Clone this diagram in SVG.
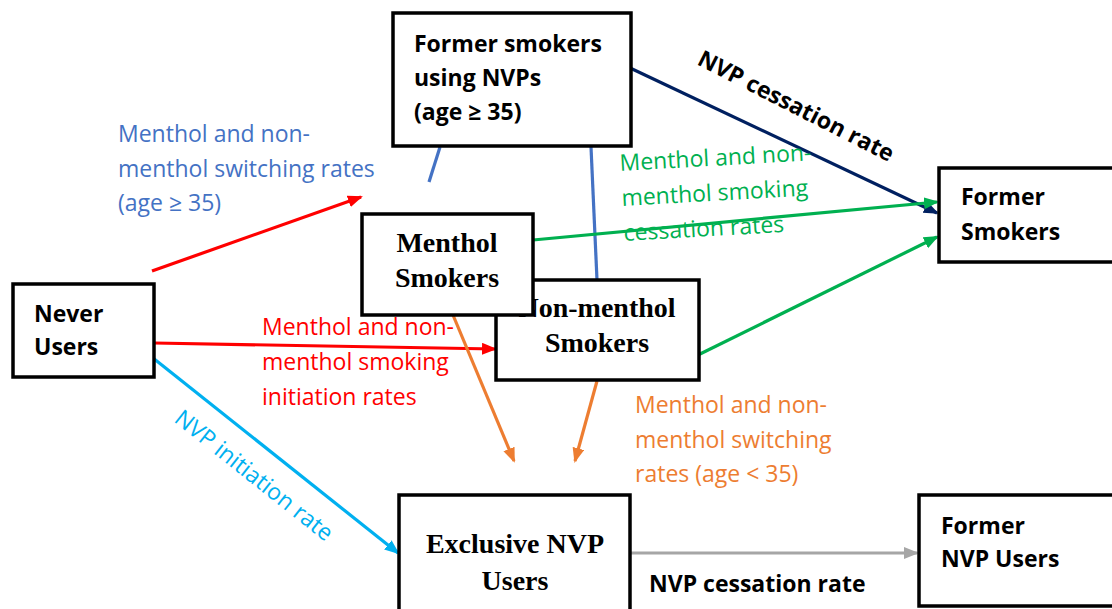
<svg xmlns="http://www.w3.org/2000/svg" width="1112" height="609" viewBox="0 0 1112 609">
<style>
.box{fill:#fff;stroke:#000;stroke-width:3.5}
.sans{font-family:"Open Sans","Liberation Sans",sans-serif;font-size:23px}
.b{font-weight:bold;fill:#000}
.serif{font-family:"Liberation Serif","Times New Roman",serif;font-size:28px;font-weight:bold;fill:#000}
.ln{fill:none;stroke-width:3.2}
</style>
<defs>
<marker id="aRed" markerUnits="userSpaceOnUse" markerWidth="16" markerHeight="14" refX="13" refY="6" orient="auto"><path d="M0,0 L15,6 L0,12 z" fill="#FF0000"/></marker>
<marker id="aNavy" markerUnits="userSpaceOnUse" markerWidth="16" markerHeight="14" refX="13" refY="6" orient="auto"><path d="M0,0 L15,6 L0,12 z" fill="#002060"/></marker>
<marker id="aGreen" markerUnits="userSpaceOnUse" markerWidth="16" markerHeight="14" refX="13" refY="6" orient="auto"><path d="M0,0 L15,6 L0,12 z" fill="#00B050"/></marker>
<marker id="aCyan" markerUnits="userSpaceOnUse" markerWidth="16" markerHeight="14" refX="13" refY="6" orient="auto"><path d="M0,0 L15,6 L0,12 z" fill="#00B0F0"/></marker>
<marker id="aOrange" markerUnits="userSpaceOnUse" markerWidth="16" markerHeight="14" refX="13" refY="6" orient="auto"><path d="M0,0 L15,6 L0,12 z" fill="#ED7D31"/></marker>
<marker id="aGray" markerUnits="userSpaceOnUse" markerWidth="16" markerHeight="14" refX="13" refY="6" orient="auto"><path d="M0,0 L15,6 L0,12 z" fill="#A6A6A6"/></marker>
</defs>

<g id="connectors">
  <line class="ln" x1="440" y1="147" x2="429" y2="182" stroke="#4472C4"/>
  <line class="ln" x1="591" y1="147" x2="597" y2="280" stroke="#4472C4"/>
  <line class="ln" x1="628" y1="67" x2="937" y2="213" stroke="#002060" marker-end="url(#aNavy)"/>
  <line class="ln" x1="533" y1="240" x2="937" y2="202" stroke="#00B050" marker-end="url(#aGreen)"/>
  <line class="ln" x1="698" y1="355" x2="937" y2="237" stroke="#00B050" marker-end="url(#aGreen)"/>
  <line class="ln" x1="152" y1="271" x2="361" y2="197" stroke="#FF0000" marker-end="url(#aRed)"/>
  <line class="ln" x1="154" y1="343" x2="495" y2="349" stroke="#FF0000" marker-end="url(#aRed)"/>
  <line class="ln" x1="153" y1="358" x2="398" y2="553" stroke="#00B0F0" marker-end="url(#aCyan)"/>
  <line class="ln" x1="453" y1="315" x2="514" y2="461" stroke="#ED7D31" marker-end="url(#aOrange)"/>
  <line class="ln" x1="597" y1="381" x2="575" y2="461" stroke="#ED7D31" marker-end="url(#aOrange)"/>
  <line class="ln" x1="631" y1="553" x2="917" y2="553" stroke="#A6A6A6" marker-end="url(#aGray)"/>
</g>

<g id="labels">
  <text class="sans" fill="#4472C4"><tspan x="118" y="142">Menthol and non-</tspan><tspan x="118" y="177">menthol switching rates</tspan><tspan x="118" y="211">(age ≥ 35)</tspan></text>
  <text class="sans" fill="#FF0000"><tspan x="262" y="335">Menthol and non-</tspan><tspan x="262" y="370">menthol smoking</tspan><tspan x="262" y="405">initiation rates</tspan></text>
  <text class="sans" fill="#00B050" transform="rotate(-3.2 620 171)"><tspan x="620" y="171">Menthol and non-</tspan><tspan x="620" y="206">menthol smoking</tspan><tspan x="620" y="241">cessation rates</tspan></text>
  <text class="sans" fill="#ED7D31"><tspan x="635" y="413">Menthol and non-</tspan><tspan x="635" y="448">menthol switching</tspan><tspan x="635" y="482">rates (age &lt; 35)</tspan></text>
  <text class="sans" fill="#00B0F0" transform="rotate(38.5 173 421)" x="173" y="421">NVP initiation rate</text>
  <text class="sans b" transform="rotate(27 696 64)" x="696" y="64">NVP cessation rate</text>
  <text class="sans b" x="649" y="592">NVP cessation rate</text>
</g>

<g id="node-former-smokers-nvp">
  <rect class="box" x="393" y="13" width="238" height="133"/>
  <text class="sans b"><tspan x="414" y="52">Former smokers</tspan><tspan x="414" y="86">using NVPs</tspan><tspan x="414" y="120">(age ≥ 35)</tspan></text>
</g>

<g id="node-non-menthol">
  <rect class="box" x="496" y="280" width="203" height="100"/>
  <text class="serif" text-anchor="middle"><tspan x="597" y="317">Non-menthol</tspan><tspan x="597" y="352">Smokers</tspan></text>
</g>

<g id="node-menthol">
  <rect class="box" x="362" y="214" width="171" height="101"/>
  <text class="serif" text-anchor="middle"><tspan x="447" y="252">Menthol</tspan><tspan x="447" y="287">Smokers</tspan></text>
</g>

<g id="node-never">
  <rect class="box" x="13" y="284" width="141" height="93"/>
  <text class="sans b"><tspan x="34" y="322">Never</tspan><tspan x="34" y="355">Users</tspan></text>
</g>

<g id="node-former-smokers">
  <rect class="box" x="939" y="168" width="190" height="94"/>
  <text class="sans b"><tspan x="961" y="205">Former</tspan><tspan x="961" y="240">Smokers</tspan></text>
</g>

<g id="node-exclusive-nvp">
  <rect class="box" x="399" y="495" width="231" height="140"/>
  <text class="serif" text-anchor="middle"><tspan x="515" y="553">Exclusive NVP</tspan><tspan x="515" y="590">Users</tspan></text>
</g>

<g id="node-former-nvp">
  <rect class="box" x="919" y="495" width="210" height="111"/>
  <text class="sans b"><tspan x="941" y="534">Former</tspan><tspan x="941" y="567">NVP Users</tspan></text>
</g>
</svg>
